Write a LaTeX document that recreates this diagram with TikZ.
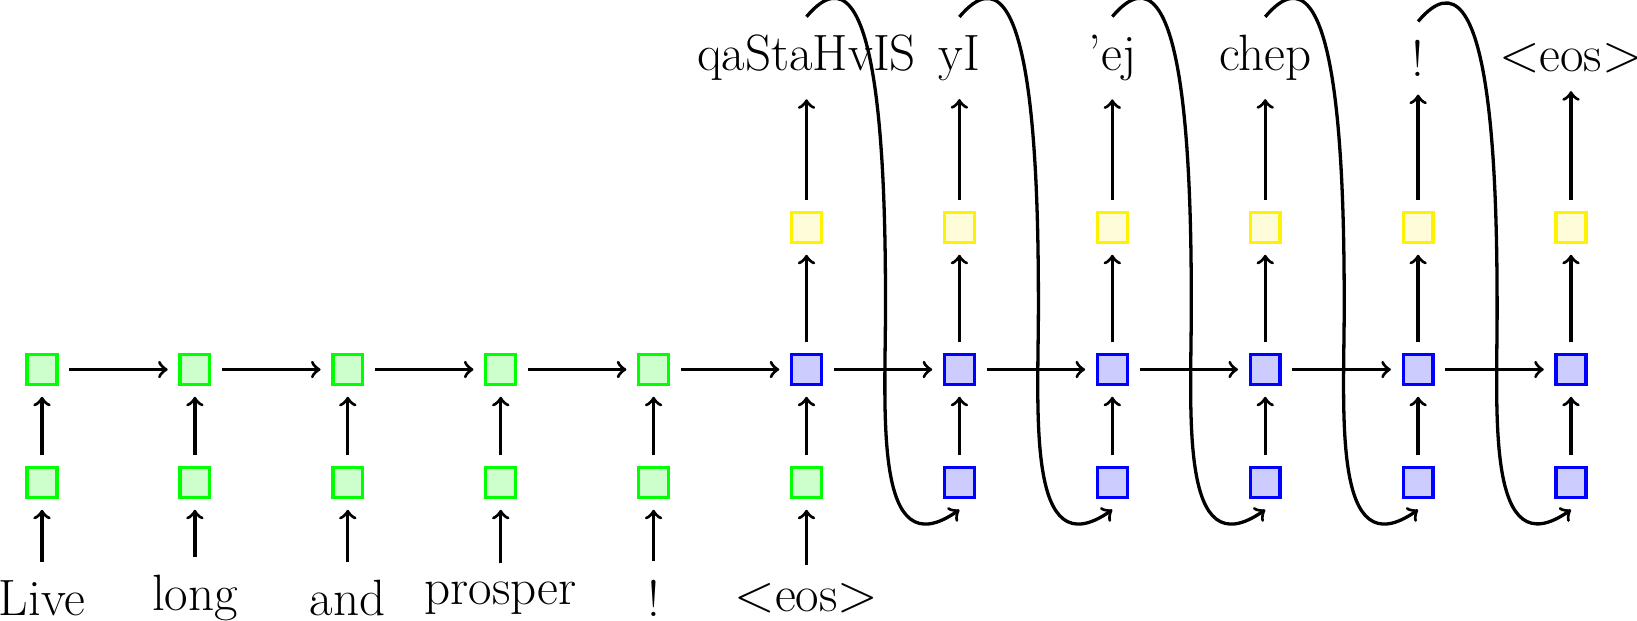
\documentclass[tikz,border=0pt]{standalone}
\usetikzlibrary{calc}
\begin{document}
\begin{tikzpicture}[x=0.325pt,y=0.325pt,
  word/.style={font=\fontsize{16.6pt}{20pt}\selectfont, inner sep=5.8pt},
  cell/.style={draw, line width=1.07pt, minimum size=9.7pt, inner sep=0pt, outer sep=4pt},
  enc/.style={cell, draw=green, fill=green!20},
  dec/.style={cell, draw=blue, fill=blue!20},
  outc/.style={cell, draw=yellow, fill=yellow!15},
  link/.style={->, line width=1.07pt},
]
\useasboundingbox (0,0) rectangle (1637,-620);
% boxes
\foreach \i in {0,...,5} \node[enc] (l\i) at ({42+152.9*\i},-482.5) {};
\foreach \i in {6,...,10} \node[dec] (l\i) at ({42+152.9*\i},-482.5) {};
\foreach \i in {0,...,4} \node[enc] (m\i) at ({42+152.9*\i},-369.5) {};
\foreach \i in {5,...,10} \node[dec] (m\i) at ({42+152.9*\i},-369.5) {};
\foreach \i in {5,...,10} \node[outc] (y\i) at ({42+152.9*\i},-227.5) {};
% words
\foreach \w [count=\i from 0] in {Live,long,and,prosper,!,$<$eos$>$}
  \node[word] (b\i) at ({42+152.9*\i},-598) {\w};
\foreach \w [count=\i from 5] in {qaStaHvIS,yI,’ej,chep,!,$<$eos$>$}
  \node[word] (t\i) at ({42+152.9*\i},-58) {\w};
% connectors
\foreach \i in {0,...,5} \draw[link] (b\i) -- (l\i);
\foreach \i in {0,...,10} \draw[link] (l\i) -- (m\i);
\foreach \i [evaluate=\i as \j using int(\i+1)] in {0,...,9} \draw[link] (m\i) -- (m\j);
\foreach \i in {5,...,10} {
  \draw[link] (m\i) -- (y\i);
  \draw[link] (y\i) -- (t\i);
}
\foreach \i [evaluate=\i as \j using int(\i+1)] in {5,...,9}
  \draw[link] (t\i.north) to[out=50,in=90] ($(t\i.north)+(79,-290)$)
    to[out=-90,in=215,looseness=1.25] (l\j.south);
\end{tikzpicture}
\end{document}
